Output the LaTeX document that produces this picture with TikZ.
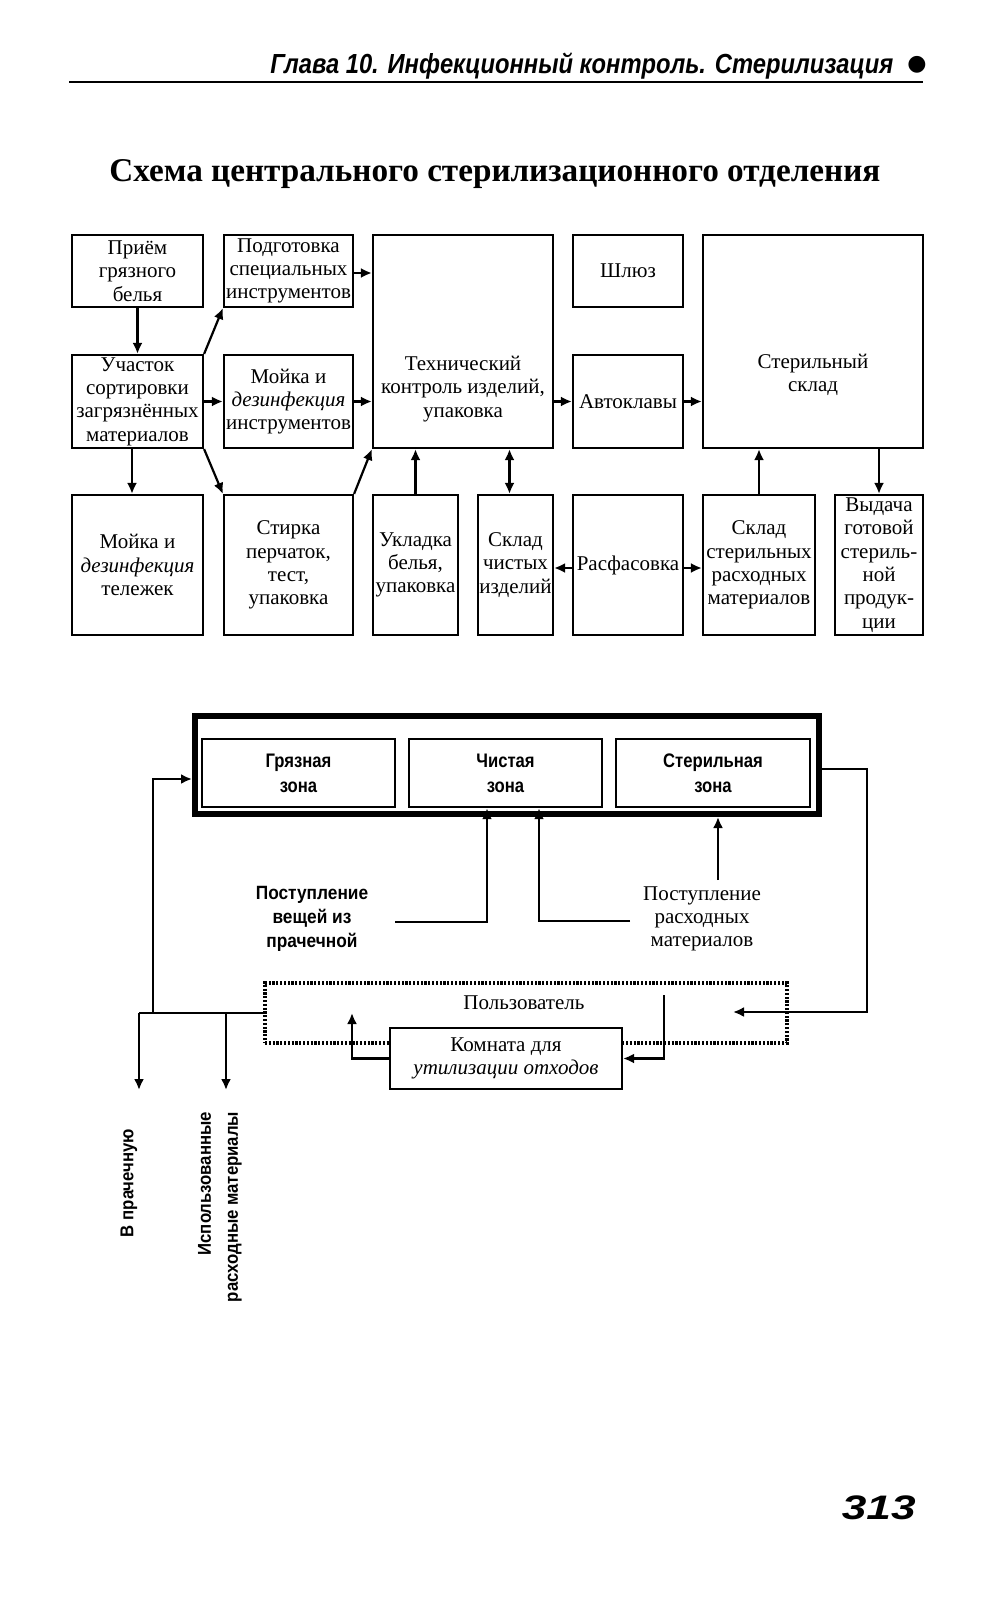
\documentclass[tikz,border=0pt]{standalone}
\usepackage{fontspec}
\setmainfont{Liberation Serif}
\newfontfamily\hdrfont[FakeStretch=0.86]{Liberation Sans}
\newfontfamily\pgfont[FakeStretch=1.3]{Liberation Sans}
\newfontfamily\zonefont[FakeStretch=0.85]{Liberation Sans}
\newfontfamily\vfont[FakeStretch=0.9]{Liberation Sans}
\newfontfamily\symfont{DejaVu Sans}
\usetikzlibrary{arrows.meta}
\newcommand\boxfnt{\fontsize{10.5}{11.65}\selectfont}
\newcommand\zonefnt{\zonefont\bfseries\fontsize{9.8}{12.5}\selectfont}
\newcommand\vfnt{\vfont\bfseries\fontsize{9.6}{12}\selectfont}
\newcommand\rotfnt{\vfont\bfseries\fontsize{9.3}{13.5}\selectfont}
\begin{document}
\begin{tikzpicture}[x=0.5pt,y=-0.5pt,
  bw/.style 2 args={minimum width={#1*0.5pt},minimum height={#2*0.5pt}},
  box/.style={draw,line width=1.1pt,inner sep=0pt,align=center,font=\boxfnt},
  zone/.style={draw,line width=1.2pt,inner sep=0pt,align=center,font=\zonefnt},
  txt/.style={inner sep=0pt,align=center,font=\boxfnt},
  dotbox/.style={draw,line width=1.7pt,dash pattern=on 1.1pt off 0.8pt,inner sep=0pt},
  arr/.style={line width=1.1pt,-{Latex[length=5.5pt,width=5pt]}},
  darr/.style={line width=1.1pt,{Latex[length=5.5pt,width=5pt]}-{Latex[length=5.5pt,width=5pt]}},
  ln/.style={line width=1.1pt}]
\fill[white] (0,0) rectangle (997,1600);
\useasboundingbox (0,0) rectangle (997,1600);

% header
\node[anchor=base west,inner sep=0pt,font={\hdrfont\bfseries\itshape\fontsize{13.8}{16}\selectfont}] (hdr) at (270,74) {Глава 10. Инфекционный контроль. Стерилизация};
\node[inner sep=0pt,font={\symfont\fontsize{11}{12}\selectfont}] (bullet) at (917,65) {●};
\draw[line width=1.3pt] (69,82) -- (923,82);

% title
\node[anchor=base west,inner sep=0pt,font={\bfseries\fontsize{16.6}{20}\selectfont}] (title) at (109,181) {Схема центрального стерилизационного отделения};

% top scheme
\node[box,bw={131}{72}] (priem) at (137.5,271) {Приём\\грязного\\белья};
\node[box,bw={129}{72}] (podg) at (288.5,271) {Подготовка\\специальных\\инструментов};
\node[box,bw={180}{213}] (tech) at (463,341.5) {};
\node[txt] (techtxt) at (463,389) {Технический\\контроль изделий,\\упаковка};
\node[box,bw={110}{72}] (shluz) at (628,271) {Шлюз};
\node[box,bw={220}{213}] (sterskl) at (813,341.5) {};
\node[txt] (stertxt) at (813,375) {Стерильный\\склад};
\node[box,bw={131}{93}] (uchast) at (137.5,401.5) {Участок\\сортировки\\загрязнённых\\материалов};
\node[box,bw={129}{93}] (moika) at (288.5,401.5) {Мойка и\\\textit{дезинфекция}\\инструментов};
\node[box,bw={110}{93}] (avto) at (628,401.5) {Автоклавы};
\node[box,bw={131}{140}] (mtel) at (137.5,565) {Мойка и\\\textit{дезинфекция}\\тележек};
\node[box,bw={129}{140}] (stirka) at (288.5,565) {Стирка\\перчаток,\\тест,\\упаковка};
\node[box,bw={85}{140}] (ukl) at (415.5,565) {Укладка\\белья,\\упаковка};
\node[box,bw={75}{140}] (sklch) at (515.5,565) {Склад\\чистых\\изделий};
\node[box,bw={110}{140}] (rasf) at (628,565) {Расфасовка};
\node[box,bw={112}{140}] (sklst) at (759,565) {Склад\\стерильных\\расходных\\материалов};
\node[box,bw={88}{140}] (vyd) at (879,565) {Выдача\\готовой\\стериль-\\ной\\продук-\\ции};

\draw[arr] (priem.south) -- (uchast.north);
\draw[arr] (uchast.north east) -- (podg.south west);
\draw[arr] (uchast.east) -- (moika.west);
\draw[arr] (uchast.south east) -- (stirka.north west);
\draw[arr] ([xshift=-2.75pt]uchast.south) -- ([xshift=-2.75pt]mtel.north);
\draw[arr] ([yshift=-1pt]podg.east) -- ([yshift=-1pt]podg.east -| tech.west);
\draw[arr] (moika.east) -- (moika.east -| tech.west);
\draw[arr] (stirka.north east) -- (tech.south west);
\draw[arr] (ukl.north) -- (ukl.north |- tech.south);
\draw[darr] ([xshift=-3pt]sklch.north) -- ([xshift=-3pt]sklch.north |- tech.south);
\draw[arr] (avto.west -| tech.east) -- (avto.west);
\draw[arr] (avto.east) -- (avto.east -| sterskl.west);
\draw[arr] (sklst.north) -- (sklst.north |- sterskl.south);
\draw[arr] (vyd.north |- sterskl.south) -- (vyd.north);
\draw[arr] ([yshift=-1.5pt]rasf.west) -- ([yshift=-1.5pt]rasf.west -| sklch.east);
\draw[arr] ([yshift=-1.5pt]rasf.east) -- ([yshift=-1.5pt]rasf.east -| sklst.west);

% bottom scheme
\node[draw,line width=3pt,inner sep=0pt,bw={624}{98}] (outer) at (507,765) {};
\node[zone,bw={193}{68}] (gryaz) at (298.5,773) {Грязная\\зона};
\node[zone,bw={193}{68}] (chist) at (505.5,773) {Чистая\\зона};
\node[zone,bw={194}{68}] (steril) at (713,773) {Стерильная\\зона};

\node[inner sep=0pt,align=center,font=\vfnt] (veshch) at (312,919) {Поступление\\вещей из\\прачечной};
\node[txt] (rask) at (702,919) {Поступление\\расходных\\материалов};

\node[dotbox,bw={522}{60}] (user) at (526,1013) {};
\node[txt] (usertxt) at (524,1003) {Пользователь};
\node[box,fill=white,bw={232}{61}] (komn) at (506,1058.5) {Комната для\\\textit{утилизации отходов}};

\coordinate (jL) at (139,1013);
\coordinate (jU) at (226,1013);
\coordinate (jV) at (153,1013);
\coordinate (toLaundry) at (139,1090);
\coordinate (toUsed) at (226,1090);
\coordinate (rc) at (867,1012);
\coordinate (userin) at (733,1012);
\coordinate (userout) at (664,995);
\coordinate (userup) at (352,1013);
\coordinate (vin) at (395,922);
\coordinate (rin) at (630,921);
\coordinate (raskup) at (718,880);

\draw[ln] (user.west) -- (jL);
\draw[arr] (jL) -- (toLaundry);
\draw[arr] (jU) -- (toUsed);
\draw[arr] (jV) |- ([yshift=-7pt]outer.west);
\draw[arr] ([yshift=-2pt]outer.east) -| (rc) -- (userin);
\draw[arr] (userout) |- (komn.east);
\draw[arr] (komn.west) -| (userup);
\draw[arr] (vin) -| ([xshift=-9.25pt]chist.south);
\draw[arr] (rin) -| ([xshift=16.75pt]chist.south);
\draw[arr] (raskup) -- (raskup |- outer.south);

\node[rotate=90,inner sep=0pt,font=\rotfnt] (laundry) at (129,1183) {В прачечную};
\node[rotate=90,inner sep=0pt,align=right,font=\rotfnt] (used) at (220,1207) {Использованные\\расходные материалы};

% page number
\node[anchor=base east,inner sep=0pt,font={\pgfont\bfseries\itshape\fontsize{17}{20}\selectfont}] (pagenum) at (916,1519) {313};
\end{tikzpicture}
\end{document}
